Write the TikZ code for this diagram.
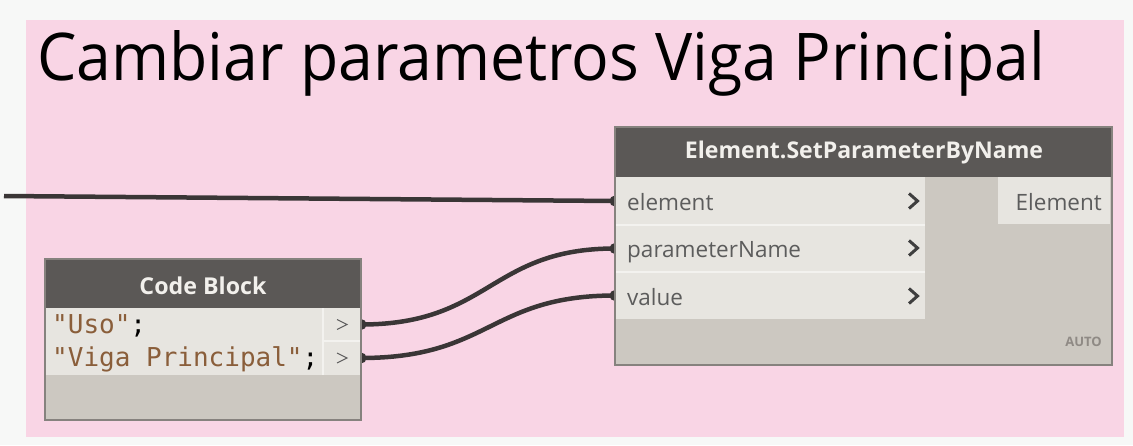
\documentclass[tikz,border=0pt]{standalone}
\usepackage{fontspec}
\usepackage{graphicx}
\setmainfont{Open Sans}
\newfontfamily\codefont{DejaVu Sans Mono}
\definecolor{canvasbg}{HTML}{F7F8F7}
\definecolor{groupbg}{HTML}{F9D5E5}
\definecolor{headbg}{HTML}{5B5856}
\definecolor{headtxt}{HTML}{F2F0EC}
\definecolor{bodybg}{HTML}{CCC8C1}
\definecolor{rowbg}{HTML}{E7E5E0}
\definecolor{rowline}{HTML}{F3F2EF}
\definecolor{frameclr}{HTML}{86827E}
\definecolor{labeltxt}{HTML}{5C5C5C}
\definecolor{chevclr}{HTML}{3F3F3F}
\definecolor{wireclr}{HTML}{3A3636}
\definecolor{strclr}{HTML}{8A5E3A}
\definecolor{autotxt}{HTML}{8F8A85}
\tikzset{
  box/.style={anchor=north west, inner sep=0pt, outer sep=0pt},
  frame/.style={box, fill=bodybg, draw=frameclr, line width=1.2pt},
  header/.style={box, fill=headbg},
  inrow/.style={box, fill=rowbg},
  portlabel/.style={anchor=base west, inner sep=0pt, text=labeltxt,
    font=\fontsize{22.5}{26}\selectfont},
  wire/.style={draw=wireclr, line width=4.5pt},
  chevron/.style={draw=chevclr, line width=3pt, miter limit=4},
  thinchev/.style={draw=labeltxt, line width=1.1pt},
  blob/.style={fill=wireclr},
  codeline/.style={anchor=base west, inner sep=0pt,
    font=\codefont\fontsize{26}{30}\selectfont},
}
\begin{document}
\begin{tikzpicture}[x=1pt, y=-1pt]
\useasboundingbox (0,0) rectangle (1133,445);
\fill[canvasbg] (0,0) rectangle (1133,445);

% group background and title
\node[box, fill=groupbg, minimum width=1098pt, minimum height=417pt] (group) at (26,20) {};
\node[anchor=base west, inner sep=0pt] (title) at (37,80)
  {\resizebox{1008pt}{50pt}{Cambiar parametros Viga Principal}};

% ports
\coordinate (src) at (4,196);
\coordinate (e1) at (615,201);
\coordinate (e2) at (615,248.5);
\coordinate (e3) at (615,295.5);
\coordinate (c1) at (361,324.5);
\coordinate (c2) at (361,358);

% wires (drawn first so the nodes cover half of each end cap)
\draw[wire] (src) -- (e1);
\draw[wire] (c1) .. controls (490,324.5) and (490,248.5) .. (e2);
\draw[wire] (c2) .. controls (490,358) and (490,295.5) .. (e3);
\foreach \p in {e1,e2,e3,c1,c2} \fill[blob] (\p) circle (5.5pt);

% Element.SetParameterByName node
\node[frame, minimum width=497pt, minimum height=238pt] (setp) at (615,127) {};
\node[header, minimum width=497pt, minimum height=50pt] (setphead) at (615,127) {};
\node[inrow, minimum width=310pt, minimum height=48pt] (rowelem) at (615,177) {};
\node[inrow, minimum width=310pt, minimum height=47pt] (rowname) at (615,225) {};
\node[inrow, minimum width=310pt, minimum height=47pt] (rowval) at (615,272) {};
\node[inrow, minimum width=112pt, minimum height=47pt] (outelem) at (998,177) {};
\draw[rowline, line width=1.5pt] (rowname.north west) -- (rowname.north east);
\draw[rowline, line width=1.5pt] (rowval.north west) -- (rowval.north east);
\draw[frameclr, line width=1.2pt] (setp.north west) rectangle (setp.south east);
\node[anchor=center, inner sep=0pt, text=headtxt] (setptitle) at (864,153)
  {\resizebox{358pt}{!}{\bfseries Element.SetParameterByName}};
\node[portlabel] (lblelem) at (627,210) {element};
\node[portlabel] (lblname) at (627,257) {parameterName};
\node[portlabel] (lblval) at (627,305) {value};
\node[portlabel, anchor=base east] (lblout) at (1102,210) {Element};
\foreach \y in {201,248,296}
  \draw[chevron] (909,\y-7.5) -- (917.5,\y) -- (909,\y+7.5);
\node[anchor=east, inner sep=0pt, text=autotxt,
  font=\bfseries\fontsize{13}{15}\selectfont] (lacing) at (1102,342) {AUTO};

% Code Block node
\node[frame, minimum width=316pt, minimum height=161pt] (cb) at (45,259) {};
\node[header, minimum width=316pt, minimum height=49pt] (cbhead) at (45,259) {};
\node[inrow, minimum width=278pt, minimum height=67pt] (cbcode) at (45,308) {};
\node[inrow, minimum width=38pt, minimum height=33pt] (cbout1) at (323,308) {};
\node[inrow, minimum width=38pt, minimum height=34pt] (cbout2) at (323,341) {};
\draw[rowline, line width=1.5pt] (cbout1.north west) -- (cbout2.south west);
\draw[rowline, line width=1.5pt] (cbout2.north west) -- (cbout2.north east);
\draw[frameclr, line width=1.2pt] (cb.north west) rectangle (cb.south east);
\node[anchor=center, inner sep=0pt, text=headtxt] (cbtitle) at (203,285.5)
  {\resizebox{127pt}{!}{\bfseries Code Block}};
\node[codeline] (code1) at (52,333) {\textcolor{strclr}{"Uso"};};
\node[codeline] (code2) at (52,366) {\textcolor{strclr}{"Viga Principal"};};
\draw[thinchev] (337,319.5) -- (347,324.5) -- (337,329.5);
\draw[thinchev] (337,353) -- (347,358) -- (337,363);
\end{tikzpicture}
\end{document}
